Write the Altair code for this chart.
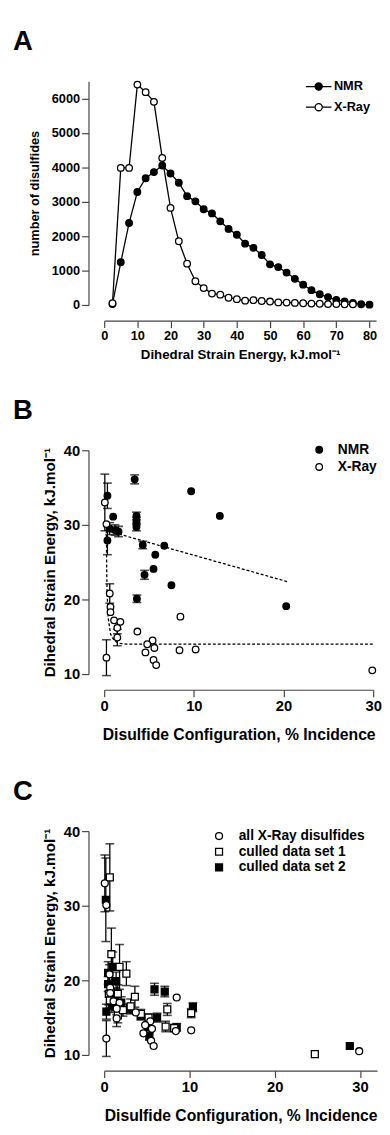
import altair as alt
import pandas as pd

FONT = "Liberation Sans"

# ---------------- Panel A data ----------------
a_energy = [2.5, 5, 7.5, 10, 12.5, 15, 17.5, 20, 22.5, 25, 27.5, 30, 32.5, 35, 37.5, 40,
            42.5, 45, 47.5, 50, 52.5, 55, 57.5, 60, 62.5, 65, 67.5, 70, 72.5, 75, 77.5, 80]
a_nmr = [30, 1240, 2380, 3280, 3680, 3860, 4050, 3820, 3550, 3160, 3010, 2780, 2660, 2430, 2210, 2040,
         1780, 1660, 1450, 1180, 1100, 940, 760, 590, 430, 310, 230, 150, 105, 60, 20, 10]
a_xray_energy = [2.5, 5, 7.5, 10, 12.5, 15, 17.5, 20, 22.5, 25, 27.5, 30, 32.5, 35, 37.5, 40,
                 42.5, 45, 47.5, 50, 52.5, 55, 57.5, 60, 62.5, 65, 67.5, 70, 72.5, 75]
a_xray = [50, 3980, 3980, 6400, 6180, 5900, 4270, 2820, 1850, 1200, 690, 490, 330, 300, 210, 170,
          125, 140, 115, 100, 75, 70, 60, 50, 40, 35, 25, 25, 20, 20]

# ---------------- Panel B data ----------------
b_nmr_x = [0.36, 3.4, 9.7, 12.9, 1.0, 0.36, 0.6, 1.2, 1.6, 3.6, 3.6, 3.6, 4.3, 4.5, 3.65, 5.5, 5.7, 6.7, 7.5, 20.3]
b_nmr_y = [33.9, 36.1, 34.5, 31.2, 31.1, 27.9, 29.5, 29.3, 29.1, 31.2, 30.5, 29.7, 27.3, 23.3, 20.1, 24.1, 26.0, 27.2, 21.9, 19.1]
b_nmr_e = [1.7, 0.6, 0, 0, 0, 1.9, 0.8, 0.7, 0.7, 0.5, 0.5, 0.5, 0.5, 0.6, 0.5, 0, 0, 0, 0, 0]

xray_x = [0.07, 0.25, 0.62, 0.7, 0.7, 1.1, 1.8, 1.46, 1.46, 0.25, 3.7, 5.4, 4.8, 5.6, 4.6, 5.5, 5.8, 8.5, 8.4, 10.2, 29.9]
xray_y = [33.0, 30.1, 20.8, 19.0, 18.3, 17.2, 17.0, 16.2, 14.9, 12.2, 15.7, 14.5, 14.0, 13.5, 12.9, 11.9, 11.2, 17.7, 13.2, 13.3, 10.5]
xray_e = [3.8, 0, 1.3, 0, 0, 0, 0, 0.8, 1.1, 2.4, 0, 0, 0, 0, 0, 0, 0, 0, 0, 0, 0]

fit_nmr_x = [0.07, 20.4]
fit_nmr_y = [29.3, 22.4]
fit_xray_x = [0.25, 0.27, 0.32, 0.45, 0.7, 1.1, 1.6, 2.5, 30.0]
fit_xray_y = [29.3, 25.0, 21.0, 17.5, 15.4, 14.5, 14.15, 14.0, 14.0]

# ---------------- Panel C data ----------------
c1_x = [0.66, 0.84, 1.8, 2.6, 0.54, 1.6, 3.6, 3.1, 0.66, 1.6, 2.2, 4.3, 5.2, 7.4, 7.2, 8.2, 10.2, 24.7]
c1_y = [33.8, 23.5, 21.8, 20.9, 18.2, 18.2, 17.8, 16.5, 17.3, 15.3, 16.0, 15.5, 15.0, 16.1, 13.8, 13.6, 15.6, 10.1]
c1_e = [4.5, 3.5, 3.0, 1.6, 1.5, 1.2, 1.4, 1.0, 1.0, 1.0, 0.8, 0.6, 0.5, 0.8, 0.7, 0.5, 0.6, 0]

c2_x = [0.19, 0.46, 1.0, 1.4, 0.46, 1.2, 0.26, 0.9, 2.0, 3.0, 4.3, 5.1, 5.3, 5.9, 7.1, 6.2, 8.5, 10.4, 28.8]
c2_y = [30.8, 21.0, 21.8, 19.9, 19.5, 18.0, 15.8, 16.5, 17.0, 16.2, 15.2, 13.8, 12.5, 18.8, 18.5, 15.0, 13.7, 16.4, 11.2]
c2_e = [5.6, 1.5, 2.0, 1.2, 1.0, 1.0, 1.0, 0.8, 0.8, 0.6, 0.5, 0.6, 0.5, 0.8, 0.7, 0.6, 0.5, 0.6, 0]

panel_letters = ["A", "B", "C"]

Y_TITLE = "Dihedral Strain Energy, kJ.mol\u207b\u00b9"
X_TITLE_BC = "Disulfide Configuration, % Incidence"

PLOT_H = 228


def axis(values, title, lsize, tsize, tpad, lpad=2):
    return alt.Axis(values=values, title=title, offset=16, tickSize=7, format="d",
                    domainColor="#444", tickColor="#444", domainWidth=1.2, tickWidth=1.2,
                    labelFont=FONT, labelFontSize=lsize, labelFontWeight="bold", labelColor="black",
                    labelFlush=False, labelOverlap=False, labelPadding=lpad,
                    titleFont=FONT, titleFontSize=tsize, titleFontWeight="bold", titleColor="black",
                    titlePadding=tpad, grid=False)


def letter(t):
    return alt.Chart(pd.DataFrame({"panel": [t]})).mark_text(
        align="left", baseline="alphabetic", fontSize=28, font=FONT, fontWeight="bold",
        color="black").encode(text="panel:N", x=alt.value(-93), y=alt.value(-32))


def errorbars(df, xf, yf, ef, xs, ys, xax, yax):
    base = alt.Chart(df).transform_filter(alt.datum[ef] > 0).transform_calculate(
        lo=alt.datum[yf] - alt.datum[ef], hi=alt.datum[yf] + alt.datum[ef])
    xenc = alt.X(f"{xf}:Q", scale=xs, axis=xax)
    rule = base.mark_rule(color="black", strokeWidth=1.3).encode(
        x=xenc, y=alt.Y("lo:Q", scale=ys, axis=yax), y2="hi:Q")
    cap_lo = base.mark_tick(color="black", thickness=1.6, size=9, orient="horizontal").encode(
        x=xenc, y=alt.Y("lo:Q", scale=ys, axis=yax))
    cap_hi = base.mark_tick(color="black", thickness=1.6, size=9, orient="horizontal").encode(
        x=xenc, y=alt.Y("hi:Q", scale=ys, axis=yax))
    return rule + cap_lo + cap_hi


# ---------------- Panel A ----------------
dfA = pd.DataFrame({
    "energy": a_energy + a_xray_energy,
    "count": a_nmr + a_xray,
    "seriesA": ["NMR"] * len(a_nmr) + ["X-Ray"] * len(a_xray),
})
xsA = alt.Scale(domain=[0, 82], nice=False, zero=False)
ysA = alt.Scale(domain=[0, 6500], nice=False)
xA = alt.X("energy:Q", scale=xsA,
           axis=axis([0, 10, 20, 30, 40, 50, 60, 70, 80], "Dihedral Strain Energy, kJ.mol\u207b\u00b9", 13, 13.5, 6))
yA = alt.Y("count:Q", scale=ysA,
           axis=axis([0, 1000, 2000, 3000, 4000, 5000, 6000], "number of disulfides", 13, 13, 10))

LEG_PATH = ("M-2,0L-0.56,0M0.56,0L2,0"
            "M0.56,0A0.56,0.56 0 1,1 -0.56,0A0.56,0.56 0 1,1 0.56,0Z")

linesA = alt.Chart(dfA).mark_line(color="black", strokeWidth=1.3).encode(
    x=xA, y=yA, detail="seriesA:N")
ptsA = alt.Chart(dfA).mark_point(shape="circle", filled=True, size=45, stroke="black",
                                 strokeWidth=1.3, opacity=1, fillOpacity=1).encode(
    x=xA, y=yA,
    fill=alt.Fill("seriesA:N", scale=alt.Scale(domain=["NMR", "X-Ray"], range=["black", "white"]),
                  legend=alt.Legend(title=None, orient="none", legendX=211, legendY=-2, padding=0,
                                    symbolType=LEG_PATH, symbolSize=169, symbolStrokeColor="black",
                                    symbolStrokeWidth=1.3, labelFont=FONT, labelFontSize=13,
                                    labelFontWeight="bold", labelColor="black", labelOffset=8,
                                    rowPadding=6)))
chartA = (linesA + ptsA + letter(panel_letters[0])).properties(width=277, height=PLOT_H)

# ---------------- Panel B ----------------
dfB = pd.DataFrame({
    "conf": b_nmr_x + xray_x,
    "strain": b_nmr_y + xray_y,
    "err": b_nmr_e + xray_e,
    "seriesB": ["NMR"] * len(b_nmr_x) + ["X-Ray"] * len(xray_x),
})
dfFit = pd.DataFrame({
    "conf": fit_nmr_x + fit_xray_x,
    "strain": fit_nmr_y + fit_xray_y,
    "fit": ["NMR"] * len(fit_nmr_x) + ["X-Ray"] * len(fit_xray_x),
})
xsB = alt.Scale(domain=[0, 30], nice=False, zero=False)
ysB = alt.Scale(domain=[10, 40], nice=False, zero=False)
xaxB = axis([0, 10, 20, 30], X_TITLE_BC, 15, 16, 14, 2)
yaxB = axis([10, 20, 30, 40], Y_TITLE, 15, 15.5, 6)
xB = alt.X("conf:Q", scale=xsB, axis=xaxB)
yB = alt.Y("strain:Q", scale=ysB, axis=yaxB)

fitB = alt.Chart(dfFit).mark_line(color="black", strokeWidth=1.3, strokeDash=[3, 2]).encode(
    x=xB, y=yB, detail="fit:N")
errB = errorbars(dfB, "conf", "strain", "err", xsB, ysB, xaxB, yaxB)
ptsB = alt.Chart(dfB).mark_point(shape="circle", filled=True, size=45, stroke="black",
                                 strokeWidth=1.3, opacity=1, fillOpacity=1).encode(
    x=xB, y=yB,
    fill=alt.Fill("seriesB:N", scale=alt.Scale(domain=["NMR", "X-Ray"], range=["black", "white"]),
                  legend=alt.Legend(title=None, orient="none", legendX=212, legendY=-7.5, padding=0,
                                    symbolType="circle", symbolSize=45, symbolStrokeColor="black",
                                    symbolStrokeWidth=1.3, labelFont=FONT, labelFontSize=14,
                                    labelFontWeight="bold", labelColor="black", labelOffset=12,
                                    rowPadding=3.5)))
chartB = (fitB + errB + ptsB + letter(panel_letters[1])).properties(width=274, height=PLOT_H)

# ---------------- Panel C ----------------
C_NAMES = ["all X-Ray disulfides", "culled data set 1", "culled data set 2"]
dfC = pd.DataFrame({
    "conf": c2_x + c1_x + xray_x,
    "strain": c2_y + c1_y + xray_y,
    "err": c2_e + c1_e + xray_e,
    "seriesC": [C_NAMES[2]] * len(c2_x) + [C_NAMES[1]] * len(c1_x) + [C_NAMES[0]] * len(xray_x),
})
xsC = alt.Scale(domain=[0, 32], nice=False, zero=False)
ysC = alt.Scale(domain=[10, 40], nice=False, zero=False)
xaxC = axis([0, 10, 20, 30], X_TITLE_BC, 15, 16, 14, 2)
yaxC = axis([10, 20, 30, 40], Y_TITLE, 15, 15.5, 6)
xC = alt.X("conf:Q", scale=xsC, axis=xaxC)
yC = alt.Y("strain:Q", scale=ysC, axis=yaxC)

errC = errorbars(dfC, "conf", "strain", "err", xsC, ysC, xaxC, yaxC)
legC = alt.Legend(title=None, orient="none", legendX=110, legendY=-2, padding=0,
                  symbolSize=50, symbolStrokeColor="black", symbolStrokeWidth=1.3,
                  labelFont=FONT, labelFontSize=14, labelFontWeight="bold", labelColor="black",
                  labelOffset=13, rowPadding=2)
ptsC = alt.Chart(dfC).mark_point(filled=True, size=50, strokeWidth=1.3,
                                 opacity=1, fillOpacity=1).encode(
    x=xC, y=yC,
    fill=alt.Fill("seriesC:N", scale=alt.Scale(domain=C_NAMES, range=["white", "white", "black"]),
                  legend=legC),
    stroke=alt.Stroke("seriesC:N", scale=alt.Scale(domain=C_NAMES, range=["black", "black", "black"]),
                      legend=legC),
    shape=alt.Shape("seriesC:N", scale=alt.Scale(domain=C_NAMES, range=["circle", "square", "square"]),
                    legend=legC),
)
chartC = (errC + ptsC + letter(panel_letters[2])).properties(width=278, height=PLOT_H)

chart = alt.vconcat(chartA, chartB, chartC, spacing=36).resolve_scale(
    fill="independent", shape="independent", stroke="independent").resolve_legend(
    fill="independent", shape="independent", stroke="independent").properties(
    padding={"left": 5, "top": 10, "right": 0, "bottom": 0}).configure_view(stroke=None)

chart.save("out.html", embed_options={"renderer": "svg", "actions": False})
